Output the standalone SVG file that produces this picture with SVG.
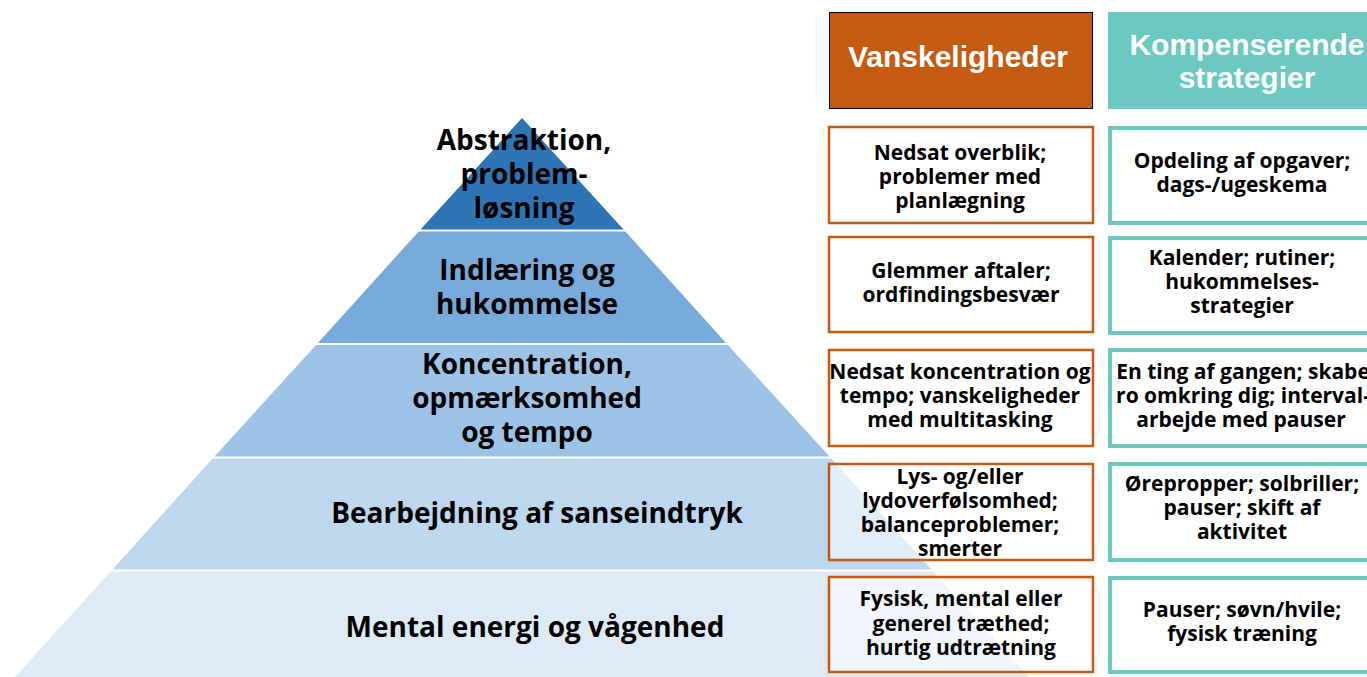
<svg xmlns="http://www.w3.org/2000/svg" width="1367" height="677" viewBox="0 0 1367 677">
<style>
.pt{font-family:"Open Sans","Noto Sans",Lato,sans-serif;font-weight:bold;font-size:28px;fill:#000;text-anchor:middle}
.bt{font-family:"Open Sans","Noto Sans",Lato,sans-serif;font-weight:bold;font-size:21px;fill:#000;text-anchor:middle}
.ht{font-family:"Liberation Sans",Arial,sans-serif;font-weight:bold;font-size:30px;fill:#fff;text-anchor:middle}
.ob{fill:#fff;fill-opacity:0.55;stroke:#C55A11;stroke-width:2.5}
.tb{fill:#fff;fill-opacity:0.55;stroke:#6CC9C2;stroke-width:4}
.sep{stroke:#fff;stroke-width:2}
</style>
<rect width="1367" height="677" fill="#fff"/>
<g id="pyramid">
<g id="level1"><polygon points="522,118 624,230 420,230" fill="#2E75B6"/>
<text class="pt" x="524" y="150">Abstraktion,</text><text class="pt" x="524" y="184">problem-</text><text class="pt" x="524" y="218">løsning</text></g>
<g id="level2"><polygon points="420,230 624,230 727,344 317,344" fill="#77AADB"/>
<text class="pt" x="527" y="280">Indlæring og</text><text class="pt" x="527" y="314">hukommelse</text></g>
<g id="level3"><polygon points="317,344 727,344 830,457 214,457" fill="#9DC3E6"/>
<text class="pt" x="527" y="374">Koncentration,</text><text class="pt" x="527" y="408">opmærksomhed</text><text class="pt" x="527" y="442">og tempo</text></g>
<g id="level4"><polygon points="214,457 830,457 932,570 112,570" fill="#BDD7EE"/>
<text class="pt" x="537" y="523">Bearbejdning af sanseindtryk</text></g>
<g id="level5"><polygon points="112,570 932,570 1029,677 15,677" fill="#DEEBF7"/>
<text class="pt" x="535" y="637">Mental energi og vågenhed</text></g>
<line class="sep" x1="400" y1="230.5" x2="650" y2="230.5"/>
<line class="sep" x1="300" y1="344" x2="750" y2="344"/>
<line class="sep" x1="200" y1="457.5" x2="850" y2="457.5"/>
<line class="sep" x1="100" y1="570.5" x2="950" y2="570.5"/>
</g>
<g id="header-vanskeligheder"><rect x="829.5" y="12.5" width="263" height="96" fill="#C55A11" stroke="#000" stroke-width="1"/>
<text class="ht" x="958" y="67">Vanskeligheder</text></g>
<g id="header-strategier"><rect x="1108" y="12" width="270" height="97" fill="#6CC9C2"/>
<text class="ht" x="1247" y="55">Kompenserende</text><text class="ht" x="1247" y="88">strategier</text></g>
<g id="v1"><rect class="ob" x="829" y="127" width="264" height="96"/>
<text class="bt" x="960" y="160">Nedsat overblik;</text><text class="bt" x="960" y="184">problemer med</text><text class="bt" x="960" y="208">planlægning</text></g>
<g id="s1"><rect class="tb" x="1110" y="128" width="270" height="95"/>
<text class="bt" x="1242" y="168">Opdeling af opgaver;</text><text class="bt" x="1242" y="192">dags-/ugeskema</text></g>
<g id="v2"><rect class="ob" x="829" y="237" width="264" height="95"/>
<text class="bt" x="961" y="278">Glemmer aftaler;</text><text class="bt" x="961" y="302">ordfindingsbesvær</text></g>
<g id="s2"><rect class="tb" x="1110" y="238" width="270" height="95"/>
<text class="bt" x="1242" y="265">Kalender; rutiner;</text><text class="bt" x="1242" y="289">hukommelses-</text><text class="bt" x="1242" y="313">strategier</text></g>
<g id="v3"><rect class="ob" x="829" y="350" width="264" height="96"/>
<text class="bt" x="960" y="379">Nedsat koncentration og</text><text class="bt" x="960" y="403">tempo; vanskeligheder</text><text class="bt" x="960" y="427">med multitasking</text></g>
<g id="s3"><rect class="tb" x="1110" y="350" width="270" height="96"/>
<text class="bt" x="1243" y="379">En ting af gangen; skabe</text><text class="bt" x="1243" y="403">ro omkring dig; interval-</text><text class="bt" x="1241" y="427">arbejde med pauser</text></g>
<g id="v4"><rect class="ob" x="829" y="464" width="264" height="96"/>
<text class="bt" x="960" y="484">Lys- og/eller</text><text class="bt" x="960" y="508">lydoverfølsomhed;</text><text class="bt" x="960" y="532">balanceproblemer;</text><text class="bt" x="960" y="556">smerter</text></g>
<g id="s4"><rect class="tb" x="1110" y="464" width="270" height="96"/>
<text class="bt" x="1242" y="491">Ørepropper; solbriller;</text><text class="bt" x="1242" y="515">pauser; skift af</text><text class="bt" x="1242" y="539">aktivitet</text></g>
<g id="v5"><rect class="ob" x="829" y="577" width="264" height="95"/>
<text class="bt" x="961" y="606">Fysisk, mental eller</text><text class="bt" x="961" y="631">generel træthed;</text><text class="bt" x="961" y="655">hurtig udtrætning</text></g>
<g id="s5"><rect class="tb" x="1110" y="578" width="270" height="94"/>
<text class="bt" x="1242" y="617">Pauser; søvn/hvile;</text><text class="bt" x="1242" y="641">fysisk træning</text></g>
<g id="connectors"/>
</svg>
